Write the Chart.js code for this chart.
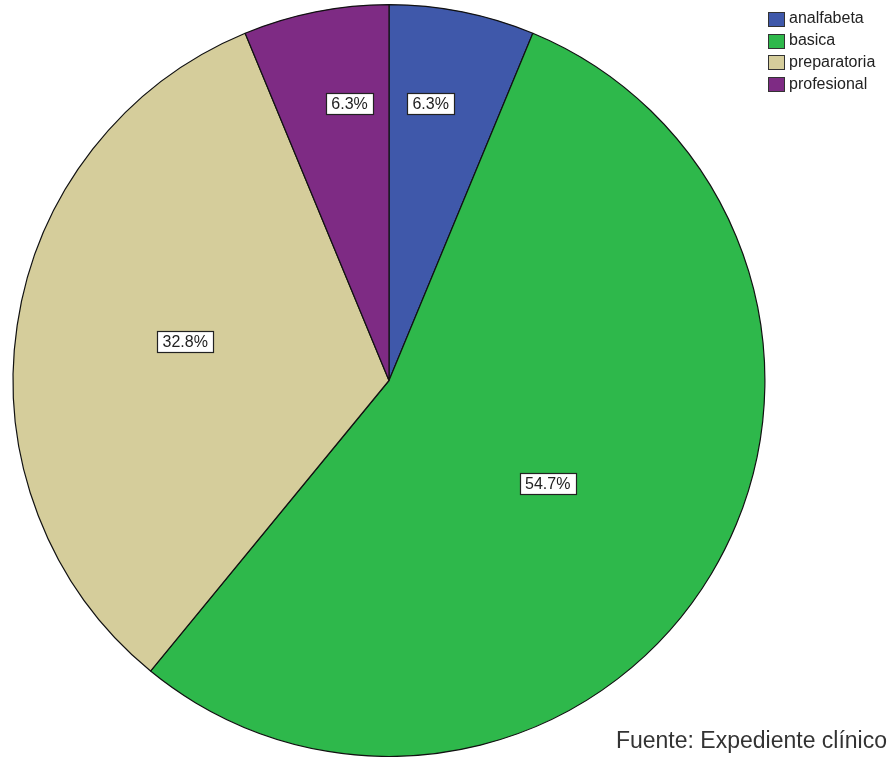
<!DOCTYPE html>
<html>
<head>
<meta charset="utf-8">
<script src="https://cdn.jsdelivr.net/npm/chart.js@4/dist/chart.umd.min.js"></script>
<style>
  body { margin: 0; background: #fff; }
  #micanvas { display: block; }
</style>
</head>
<body>
<canvas id="micanvas" width="890" height="757"></canvas>
<script>
// frecuencias (n = 64)
let categorias = ["analfabeta", "basica", "preparatoria", "profesional"]
let frecuencias = [4, 35, 21, 4]
let etiquetas = ["6.3%", "54.7%", "32.8%", "6.3%"]
let colores = ["#3f58aa", "#2eb84b", "#d5cd9b", "#7e2b84"]
let fuente = "Fuente: Expediente clínico"

const letra = 'Arial, "Liberation Sans", sans-serif'

// etiquetas en cajas blancas, como en SPSS
const cajas = {
  id: 'cajas',
  afterDatasetsDraw(chart, args, opts) {
    const ctx = chart.ctx
    const meta = chart.getDatasetMeta(0)
    ctx.save()
    ctx.font = '16px ' + letra
    ctx.textAlign = 'center'
    ctx.textBaseline = 'middle'
    meta.data.forEach((arco, i) => {
      const p = opts.spots[i]
      const ang = arco.startAngle + (arco.endAngle - arco.startAngle) * p[0]
      const r = arco.outerRadius * p[1]
      const x = arco.x + Math.cos(ang) * r
      const y = arco.y + Math.sin(ang) * r
      const w = Math.round(ctx.measureText(etiquetas[i]).width + 11)
      const h = 21
      const bx = Math.round(x - w / 2) + 0.5
      const by = Math.round(y - h / 2) + 0.5
      ctx.fillStyle = '#fff'
      ctx.fillRect(bx, by, w, h)
      ctx.strokeStyle = '#222'
      ctx.lineWidth = 1.2
      ctx.strokeRect(bx, by, w, h)
      ctx.fillStyle = '#222'
      ctx.fillText(etiquetas[i], x, y + 1)
    })
    ctx.restore()
  }
}

// leyenda arriba a la derecha y nota de fuente abajo
const extras = {
  id: 'extras',
  afterDraw(chart) {
    const ctx = chart.ctx
    ctx.save()
    ctx.font = '16px ' + letra
    ctx.textBaseline = 'middle'
    categorias.forEach((c, i) => {
      const y = 19 + i * 21.7
      ctx.fillStyle = colores[i]
      ctx.fillRect(768.5, Math.round(y - 7) + 0.5, 16, 14)
      ctx.strokeStyle = '#333'
      ctx.lineWidth = 1
      ctx.strokeRect(768.5, Math.round(y - 7) + 0.5, 16, 14)
      ctx.fillStyle = '#222'
      ctx.fillText(c, 789, y)
    })
    ctx.font = '23px ' + letra
    ctx.textAlign = 'right'
    ctx.fillStyle = '#333'
    ctx.fillText(fuente, 887, 742)
    ctx.restore()
  }
}

let contexto = document.getElementById('micanvas').getContext('2d')
let opciones = {
  type: 'pie',
  data: {
    labels: categorias,
    datasets: [{
      data: frecuencias,
      backgroundColor: colores,
      borderColor: '#111',
      borderWidth: 1.2
    }]
  },
  options: {
    responsive: false,
    animation: false,
    layout: { padding: { left: 11, right: 123, top: 4, bottom: 0 } },
    plugins: {
      legend: { display: false },
      tooltip: { enabled: false },
      cajas: { spots: [[0.38, 0.745], [0.51, 0.503], [0.52, 0.552], [0.64, 0.745]] }
    }
  },
  plugins: [cajas, extras]
}

let grafica = new Chart(contexto, opciones)
</script>
</body>
</html>
